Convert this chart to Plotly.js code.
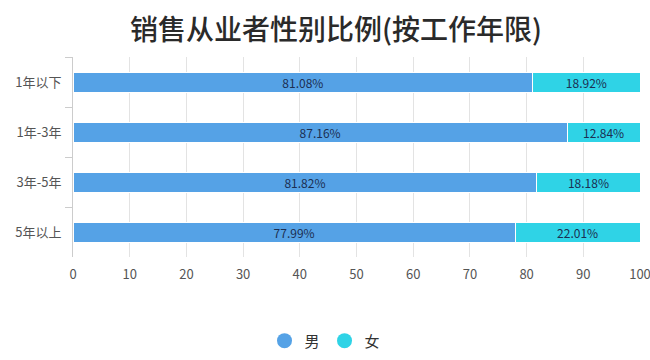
<!DOCTYPE html>
<html><head><meta charset="utf-8">
<script src="https://cdn.plot.ly/plotly-3.0.1.min.js"></script>
<style>body{margin:0;background:#fff}#c{width:650px;height:360px}</style>
</head><body><div id="c"></div>
<script>
const categories = ['1年以下', '1年-3年', '3年-5年', '5年以上'];
const male = [81.08, 87.16, 81.82, 77.99];
const female = [18.92, 12.84, 18.18, 22.01];
const seriesNames = ['男', '女'];
const colors = ['#55a2e6', '#2fd3e6'];
const F = '"Noto Sans CJK SC", "Noto Sans", sans-serif';

const barBase = {
  type: 'bar', orientation: 'h', y: categories,
  texttemplate: '%{x:.2f}%', textposition: 'inside', insidetextanchor: 'middle', constraintext: 'none',
  textfont: {family: F, size: 12, color: '#1c2f52'}, showlegend: false, hoverinfo: 'x+y'
};
const traces = [
  Object.assign({}, barBase, {x: male, name: seriesNames[0], marker: {color: colors[0], line: {color: '#fff', width: 1}}}),
  Object.assign({}, barBase, {x: female, name: seriesNames[1], marker: {color: colors[1], line: {color: '#fff', width: 1}}}),
  {type: 'scatter', mode: 'markers', x: [null], y: [null], name: seriesNames[0], marker: {color: colors[0], size: 15, symbol: 'circle'}},
  {type: 'scatter', mode: 'markers', x: [null], y: [null], name: seriesNames[1], marker: {color: colors[1], size: 15, symbol: 'circle'}}
];
const layout = {
  width: 650, height: 360, barmode: 'stack', bargap: 0.6,
  margin: {l: 73, r: 10, t: 57, b: 103},
  paper_bgcolor: '#fff', plot_bgcolor: '#fff',
  font: {family: F, color: '#333'},
  uniformtext: {mode: false},
  title: {text: '销售从业者性别比例(按工作年限)', x: 0.517, xanchor: 'center', y: 0.915, yanchor: 'middle',
          font: {family: F, size: 28, weight: 500, color: '#2a2a2a'}},
  xaxis: {range: [0, 100], tickvals: [0,10,20,30,40,50,60,70,80,90,100], showgrid: true, gridcolor: '#e3e3e3', gridwidth: 1,
          zeroline: false, showline: false, ticks: '', ticklabeloverflow: 'allow', ticklabelstandoff: 8,
          tickfont: {family: F, size: 13, color: '#555'}, fixedrange: true},
  yaxis: {type: 'category', autorange: 'reversed', tickson: 'boundaries', ticks: 'outside', ticklen: 7,
          tickcolor: '#ccc', showline: true, linecolor: '#ccc', showgrid: false,
          tickfont: {family: F, size: 13, color: '#555'}, ticklabelstandoff: 8},
  legend: {orientation: 'h', xref: 'container', x: 0.5, xanchor: 'center', yref: 'container', y: 0.053, yanchor: 'middle', traceorder: 'normal',
           font: {family: F, size: 15, color: '#333'}, itemwidth: 30, tracegroupgap: 0},
  showlegend: true
};
Plotly.newPlot('c', traces, layout, {displayModeBar: false, staticPlot: true});
</script></body></html>
